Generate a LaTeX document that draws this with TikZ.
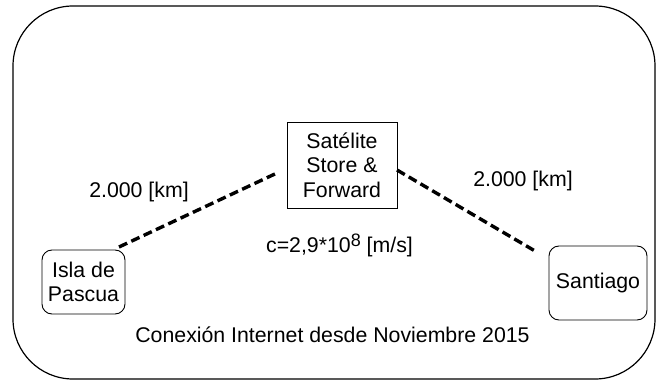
\documentclass[tikz,border=0pt]{standalone}
\usepackage{fontspec}
\setmainfont{Liberation Sans}
\begin{document}
\begin{tikzpicture}[x=1pt,y=-1pt,
  txt/.style={font=\fontsize{21.3}{24.5}\selectfont, inner sep=0pt, align=center},
  roundbox/.style={txt, draw, line width=0.9pt, rounded corners=10pt},
  squarebox/.style={txt, draw, line width=0.9pt},
  link/.style={line width=3.4pt, dash pattern=on 9pt off 4.6pt}
]
\useasboundingbox (0,0) rectangle (662,382);
% outer frame
\draw[line width=1.2pt, rounded corners=60pt] (13,6) rectangle (655,379);

% stations
\node[roundbox, minimum width=83pt, minimum height=64pt] (isla) at (83.5,282) {Isla de\\Pascua};
\node[roundbox, minimum width=98pt, minimum height=74pt] (stgo) at (598,283) {Santiago};
\node[squarebox, minimum width=110pt, minimum height=86pt] (sat) at (342,165) {Satélite\\Store \&\\Forward};

% link end points
\coordinate (la) at (119,247);
\coordinate (lb) at (277,173);
\coordinate (ra) at (397,170);
\coordinate (rb) at (535,251);
\draw[link] (la) -- (lb);
\draw[link] (ra) -- (rb);

% labels
\node[txt, anchor=base] (dl) at (139,198) {2.000 [km]};
\node[txt, anchor=base] (dr) at (523,187) {2.000 [km]};
\node[txt, anchor=base] (vel) at (339.5,253) {c=2,9*10\raisebox{6.3pt}{\fontsize{18}{18}\selectfont 8} [m/s]};
\node[txt, anchor=base] (since) at (332.5,343) {Conexión Internet desde Noviembre 2015};
\end{tikzpicture}
\end{document}
